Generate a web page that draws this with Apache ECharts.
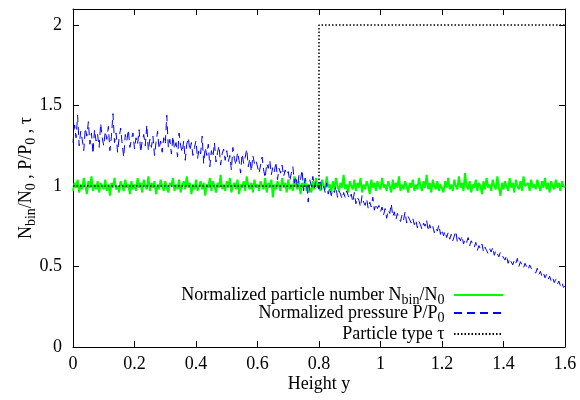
<!DOCTYPE html>
<html>
<head>
<meta charset="utf-8">
<script src="https://cdn.jsdelivr.net/npm/echarts@6/dist/echarts.min.js"></script>
<style>html,body{margin:0;padding:0;background:#fff}#c{width:580px;height:400px}</style>
</head>
<body>
<div id="c"></div>
<script>
const xStep = 0.005;
const xTicks = [0, 0.2, 0.4, 0.6, 0.8, 1, 1.2, 1.4, 1.6];
const yTicks = [0, 0.5, 1, 1.5, 2];
const nbin = [
0.97,1.02,0.99,1.04,0.96,1.01,0.98,1.05,1.00,0.95,1.03,0.99,1.06,0.97,1.01,0.98,1.03,0.96,1.02,1.00,
0.98,1.04,0.97,1.01,0.94,1.02,0.99,1.05,0.98,1.00,0.96,1.03,1.00,0.97,1.04,0.99,1.01,0.95,1.03,0.98,
1.01,0.97,1.05,0.99,1.02,0.96,1.04,1.00,0.98,1.06,0.97,1.02,0.99,1.03,0.95,1.01,0.98,1.04,1.00,0.97,
1.03,0.99,0.96,1.02,1.00,1.05,0.97,1.01,0.98,1.04,0.96,1.00,1.03,0.98,1.06,0.99,1.02,0.95,1.01,0.98,
1.04,0.97,1.00,1.03,0.98,1.02,0.94,1.01,0.99,1.05,0.97,1.03,1.00,0.96,1.02,0.99,1.07,0.98,1.01,0.97,
1.03,0.99,1.05,0.96,1.00,1.02,0.98,1.04,0.95,1.01,0.99,1.03,0.97,1.06,1.00,0.98,1.02,0.96,1.04,0.99,
1.01,0.97,1.03,1.00,0.98,1.05,0.96,1.02,0.99,1.04,0.93,1.01,0.98,1.03,1.00,0.97,1.05,0.99,1.02,0.96,
1.04,0.98,1.01,0.97,1.06,1.00,0.98,1.03,0.95,1.02,0.99,1.04,0.97,1.01,1.00,0.96,1.03,0.98,1.05,0.99,
1.02,0.97,1.04,1.00,0.98,1.06,0.99,1.01,0.96,1.03,0.98,1.05,1.00,0.97,1.02,0.99,1.07,0.98,1.01,0.96,
1.03,1.00,0.98,1.04,0.97,1.02,0.99,1.05,0.96,1.01,0.98,1.03,1.00,0.95,1.04,0.99,1.02,0.97,1.03,1.00,
0.98,1.05,0.99,1.01,0.97,1.03,1.00,0.96,1.04,0.98,1.02,0.99,1.06,0.97,1.01,0.98,1.03,1.00,0.96,1.02,
0.99,1.04,0.97,1.01,0.98,1.05,1.00,0.97,1.03,0.99,1.07,0.98,1.02,0.96,1.04,1.00,0.98,1.03,0.97,1.01,
1.00,0.96,1.03,0.99,1.05,0.98,1.01,0.97,1.04,1.00,0.98,1.06,0.99,1.02,0.97,1.08,1.00,0.98,1.03,0.96,
1.01,0.99,1.04,0.97,1.02,1.00,0.95,1.03,0.98,1.05,0.99,1.01,0.97,1.04,1.00,0.98,1.06,0.99,0.94,1.02,
0.98,1.03,1.00,0.97,1.05,0.99,1.02,0.96,1.04,1.00,0.98,1.03,0.97,1.06,1.00,0.99,1.02,0.97,1.04,0.99,
1.01,0.98,1.04,1.00,0.97,1.03,0.99,1.05,0.98,1.02,0.96,1.03,1.00,0.98,1.04,0.99,1.02,0.97,1.03,1.00,
0.99];
const pressure = [
1.27,1.38,1.30,1.44,1.25,1.34,1.29,1.22,1.36,1.31,1.40,1.26,1.33,1.20,1.35,1.28,1.32,1.24,1.39,1.30,
1.25,1.34,1.29,1.37,1.22,1.31,1.45,1.27,1.33,1.21,1.30,1.36,1.26,1.18,1.32,1.28,1.35,1.24,1.29,1.33,
1.23,1.30,1.26,1.35,1.21,1.28,1.32,1.25,1.38,1.22,1.29,1.24,1.31,1.19,1.27,1.34,1.23,1.28,1.21,1.30,
1.26,1.44,1.24,1.29,1.20,1.31,1.23,1.27,1.18,1.33,1.25,1.21,1.28,1.16,1.26,1.30,1.22,1.27,1.19,1.24,
1.28,1.17,1.23,1.20,1.31,1.14,1.24,1.19,1.26,1.12,1.22,1.18,1.27,1.15,1.21,1.25,1.13,1.20,1.23,1.16,
1.22,1.15,1.19,1.10,1.24,1.17,1.13,1.21,1.16,1.08,1.20,1.14,1.18,1.23,1.12,1.17,1.09,1.19,1.14,1.16,
1.15,1.08,1.13,1.18,1.10,1.05,1.14,1.11,1.16,1.07,1.12,1.09,1.15,1.04,1.11,1.08,1.13,1.06,1.10,1.07,
1.09,1.03,1.08,1.12,1.02,1.06,0.99,1.07,1.04,1.10,0.97,1.05,1.01,0.90,1.04,1.00,1.06,0.99,1.03,1.01,
0.98,1.03,0.97,1.00,0.96,1.02,0.95,0.99,0.94,0.98,0.96,1.00,0.93,0.97,0.95,0.92,0.96,0.93,0.97,0.94,
0.92,0.95,0.90,0.96,0.89,0.93,0.91,0.87,0.94,0.90,0.88,0.92,0.86,0.90,0.87,0.93,0.85,0.89,0.86,0.88,
0.84,0.87,0.82,0.86,0.80,0.85,0.83,0.89,0.81,0.84,0.79,0.83,0.80,0.78,0.82,0.79,0.84,0.77,0.81,0.79,
0.77,0.80,0.76,0.79,0.74,0.78,0.76,0.73,0.77,0.75,0.79,0.72,0.76,0.73,0.75,0.71,0.74,0.72,0.76,0.70,
0.73,0.69,0.72,0.68,0.71,0.67,0.70,0.66,0.69,0.72,0.65,0.68,0.66,0.69,0.64,0.67,0.65,0.68,0.63,0.66,
0.64,0.62,0.65,0.60,0.63,0.61,0.64,0.59,0.62,0.60,0.58,0.61,0.59,0.62,0.57,0.60,0.58,0.56,0.59,0.57,
0.56,0.54,0.57,0.52,0.55,0.53,0.51,0.54,0.52,0.55,0.50,0.53,0.51,0.49,0.52,0.50,0.48,0.51,0.49,0.47,
0.48,0.46,0.49,0.45,0.47,0.44,0.46,0.43,0.45,0.42,0.44,0.41,0.43,0.40,0.42,0.39,0.41,0.38,0.40,0.37,
0.38];
const typeX = [0, 0.8, 0.8, 1.6];
const typeY = [1, 1, 2, 2];

const font = 'Liberation Serif';
const nbinData = nbin.map((v, i) => [i * xStep, v]);
const pData = pressure.map((v, i) => [i * xStep, v]);
const tData = typeX.map((x, i) => [x, typeY[i]]);

const isTick = (v, list) => list.some(t => Math.abs(t - v) < 1e-6);
const subRich = { sub: { fontSize: 14, padding: [10, 0, 0, 0], fontFamily: font } };
const names = {
  nbin: 'Normalized particle number N{sub|bin}/N{sub|0} ',
  p: 'Normalized pressure P/P{sub|0} ',
  tau: 'Particle type τ '
};
function leg(name, top) {
  return {
    data: [name], right: 76, top: top, orient: 'vertical', align: 'right',
    padding: 0, itemWidth: 49, itemHeight: 12, selectedMode: false,
    itemStyle: { opacity: 0, borderWidth: 0 },
    formatter: n => names[n],
    textStyle: { fontFamily: font, fontSize: 18, color: '#000', rich: subRich }
  };
}
const axisCommon = {
  type: 'value', min: 0,
  axisLine: { show: true, onZero: false, lineStyle: { color: '#000', width: 1 } },
  axisTick: { show: true, inside: true, length: 6, lineStyle: { color: '#000' } },
  splitLine: { show: false }
};
const chart = echarts.init(document.getElementById('c'), null, { renderer: 'canvas' });
chart.setOption({
  animation: false,
  backgroundColor: '#fff',
  textStyle: { fontFamily: font },
  grid: { left: 73, right: 15, top: 9, bottom: 53, containLabel: false },
  legend: [leg('nbin', 286), leg('p', 304), leg('tau', 325)],
  xAxis: [
    Object.assign({}, axisCommon, {
      position: 'bottom', max: 1.6, interval: 0.2,
      name: 'Height y', nameLocation: 'middle', nameGap: 28, nameMoveOverlap: false,
      nameTextStyle: { fontFamily: font, fontSize: 18, color: '#000' },
      axisLabel: { margin: 8, fontFamily: font, fontSize: 18, color: '#000',
        formatter: v => isTick(v, xTicks) ? String(+v.toFixed(2)) : '' }
    }),
    Object.assign({}, axisCommon, {
      position: 'top', max: 1.6, interval: 0.2, axisLabel: { show: false }
    })
  ],
  yAxis: [
    Object.assign({}, axisCommon, {
      position: 'left', max: 2.1, interval: 0.5,
      name: 'N{sub|bin}/N{sub|0} , P/P{sub|0} , τ', nameLocation: 'middle', nameGap: 35, nameMoveOverlap: false,
      nameTextStyle: { fontFamily: font, fontSize: 18, color: '#000', rich: subRich },
      axisLabel: { margin: 11, fontFamily: font, fontSize: 18, color: '#000',
        formatter: v => isTick(v, yTicks) ? String(+v.toFixed(2)) : '' }
    }),
    Object.assign({}, axisCommon, {
      position: 'right', max: 2.1, interval: 0.5, axisLabel: { show: false }
    })
  ],
  series: [
    { name: 'nbin', type: 'line', data: nbinData, symbol: 'none', showSymbol: false,
      lineStyle: { color: '#00ff00', width: 2 }, itemStyle: { color: '#00ff00' } },
    { name: 'p', type: 'line', data: pData, symbol: 'none', showSymbol: false,
      lineStyle: { color: '#0000ff', width: 1, type: [8, 5] }, itemStyle: { color: '#0000ff' } },
    { name: 'tau', type: 'line', data: tData, symbol: 'none', showSymbol: false,
      lineStyle: { color: '#000', width: 1.5, type: [1.5, 2] }, itemStyle: { color: '#000' } }
  ]
});
</script>
</body>
</html>
